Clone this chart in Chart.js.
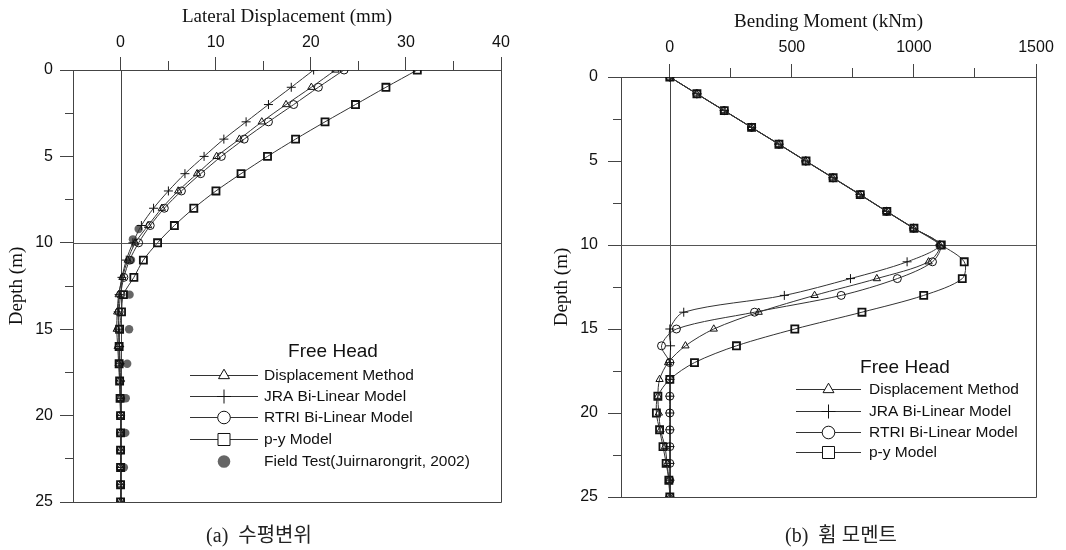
<!DOCTYPE html>
<html><head><meta charset="utf-8">
<script src="https://cdn.jsdelivr.net/npm/chart.js@4"></script>
<style>
html,body{margin:0;padding:0;background:#fff;}
#wrap{position:relative;width:1066px;height:550px;overflow:hidden;background:#fff;}
.box{position:absolute;top:0;width:533px;height:550px;}
.cap{position:absolute;top:523px;font-family:"Liberation Serif","Noto Sans CJK KR",serif;font-size:20px;line-height:24px;color:#222;white-space:nowrap;transform:translateX(-50%);}
</style></head><body>
<div id="wrap">
<div class="box" style="left:0"><canvas id="c1"></canvas></div>
<div class="box" style="left:533px"><canvas id="c2"></canvas></div>
<div class="cap" style="left:259px">(a)&nbsp; 수평변위</div>
<div class="cap" style="left:841px">(b)&nbsp; 휨 모멘트</div>
</div>
<script>
// ---------- data ----------
const depths = [0,1,2,3,4,5,6,7,8,9,10,11,12,13,14,15,16,17,18,19,20,21,22,23,24,25];
const seriesNames = ['Displacement Method','JRA Bi-Linear Model','RTRI Bi-Linear Model','p-y Model'];
const fieldName = 'Field Test(Juirnarongrit, 2002)';

// (a) lateral displacement (mm)
const dispMethodDisp = [22.6,20.06,17.4,14.85,12.5,10.1,8.05,6.06,4.34,2.9,1.55,0.75,0.2,-0.2,-0.35,-0.4,-0.3,-0.2,-0.1,-0.05,0,0,0,0,0,0];
const jraDisp        = [20.3,17.95,15.55,13.2,10.86,8.78,6.77,5.03,3.47,2.19,1.3,0.6,0.15,-0.15,-0.25,-0.2,-0.1,-0.05,0,0,0,0,0,0,0,0];
const rtriDisp       = [23.5,20.8,18.2,15.55,13.0,10.6,8.43,6.4,4.6,3.12,1.9,0.95,0.35,0.0,-0.15,-0.2,-0.15,-0.1,-0.05,0,0,0,0,0,0,0];
const pyDisp         = [31.2,27.9,24.7,21.5,18.4,15.45,12.67,10.03,7.7,5.66,3.89,2.4,1.4,0.3,0.1,-0.1,-0.15,-0.15,-0.1,-0.05,0,0,0,0,0,0];
const fieldDepths    = [9.2,9.8,11,13,15,17,19,21,23];
const fieldDisp      = [1.9,1.3,1.1,0.95,0.9,0.7,0.55,0.5,0.35];

// (b) bending moment (kNm)
const dispMethodMom = [0,110,222,334,446,556,667,778,887,997,1105,1060,848,593,364,180,64,-7,-42,-49,-45,-38,-20,-11,-4,0];
const jraMom        = [0,111,223,335,447,557,668,779,888,998,1105,972,740,469,57,0,3,0,0,0,0,0,0,0,0,0];
const rtriMom       = [0,111,223,335,447,557,669,780,888,999,1108,1076,932,702,347,27,-34,0,0,0,0,0,0,0,0,0];
const pyMom         = [0,111,223,335,447,558,669,780,889,1000,1112,1206,1198,1040,787,512,273,101,0,-49,-55,-42,-28,-15,-4,0];

// axes / ticks
const dispRange = [-5, 40];
const dispTickValues = [0,5,10,15,20,25,30,35,40];
const dispTickLabels = [0,10,20,30,40];
const momRange = [-200, 1500];
const momTickValues = [0,250,500,750,1000,1250,1500];
const momTickLabels = [0,500,1000,1500];
const depthRange = [0, 25];
const depthTickValues = [0,2.5,5,7.5,10,12.5,15,17.5,20,22.5,25];
const depthTickLabels = [0,5,10,15,20,25];
const refDepth = 10;

// ---------- styling ----------
const LINE = '#333', MARK = '#111';
const markerStyles = [
  {pointStyle:'triangle', pointRadius:4.2, pointBorderWidth:1},
  {pointStyle:'cross', pointRadius:4.5, pointBorderWidth:1},
  {pointStyle:'circle', pointRadius:4, pointBorderWidth:1},
  {pointStyle:'rect', pointRadius:5, pointBorderWidth:1.8}
];

function makeSeries(arrs){
  return arrs.map((arr,k)=>Object.assign({
    label: seriesNames[k],
    data: depths.map((d,i)=>({x:arr[i], y:d})),
    borderColor: LINE, borderWidth: 1, tension: 0.3,
    pointBorderColor: MARK, pointBackgroundColor: 'rgba(0,0,0,0)'
  }, markerStyles[k]));
}

function drawMarker(ctx, style, x, y, r){
  ctx.beginPath();
  if (style==='triangle'){
    const w = r*Math.sqrt(3);
    ctx.moveTo(x, y - r); ctx.lineTo(x + w/2, y + r/2); ctx.lineTo(x - w/2, y + r/2); ctx.closePath();
  } else if (style==='cross'){
    ctx.moveTo(x, y - r); ctx.lineTo(x, y + r); ctx.moveTo(x - r, y); ctx.lineTo(x + r, y);
  } else if (style==='circle'){
    ctx.arc(x, y, r, 0, Math.PI*2);
  } else if (style==='rect'){
    const s = r*Math.SQRT1_2; ctx.rect(x - s, y - s, 2*s, 2*s);
  }
}

const framePlugin = {
  id:'frame',
  beforeDatasetsDraw(chart){
    const {ctx, chartArea:a, scales:{x,y}} = chart;
    ctx.save();
    ctx.lineWidth = 1;
    ctx.strokeStyle = '#444';
    const x0 = Math.round(x.getPixelForValue(0)) + 0.5;
    ctx.beginPath(); ctx.moveTo(x0, a.top); ctx.lineTo(x0, a.bottom); ctx.stroke();
    ctx.strokeStyle = '#555';
    const yr = Math.round(y.getPixelForValue(refDepth)) + 0.5;
    ctx.beginPath(); ctx.moveTo(a.left, yr); ctx.lineTo(a.right, yr); ctx.stroke();
    ctx.strokeStyle = '#444';
    ctx.beginPath();
    ctx.moveTo(Math.round(a.right)+0.5, a.top); ctx.lineTo(Math.round(a.right)+0.5, Math.round(a.bottom)+0.5);
    ctx.lineTo(a.left, Math.round(a.bottom)+0.5);
    ctx.stroke();
    ctx.restore();
  },
  afterDraw(chart, args, o){
    if (!o || !o.rows) return;
    const ctx = chart.ctx;
    ctx.save();
    ctx.fillStyle = '#111';
    ctx.textBaseline = 'middle';
    ctx.textAlign = 'center';
    ctx.font = '19px "Liberation Sans", Arial, sans-serif';
    ctx.fillText('Free Head', o.titleX, o.titleY);
    ctx.textAlign = 'left';
    ctx.font = '15.5px "Liberation Sans", Arial, sans-serif';
    chart.data.datasets.forEach((ds, i) => {
      const yy = o.rows[i];
      ctx.lineWidth = 1;
      ctx.strokeStyle = LINE;
      if (ds.showLine !== false){
        ctx.beginPath(); ctx.moveTo(o.x1, yy + 0.5); ctx.lineTo(o.x2, yy + 0.5); ctx.stroke();
        ctx.fillStyle = '#fff';
      } else {
        ctx.fillStyle = ds.pointBackgroundColor;
      }
      const r = ds.pointStyle === 'rect' ? 8.5 : (ds.pointStyle === 'cross' ? 7 : 6.3);
      drawMarker(ctx, ds.pointStyle, (o.x1 + o.x2)/2, yy + 0.5, r);
      ctx.strokeStyle = MARK;
      if (ds.showLine !== false){
        if (ds.pointStyle !== 'cross') ctx.fill();
        ctx.stroke();
      } else {
        ctx.fill();
      }
      ctx.fillStyle = '#111';
      ctx.fillText(ds.label, o.tx, yy + 1);
    });
    ctx.restore();
  }
};

function makeScales(range, tickVals, tickLabels, xTitle, geom){
  const tickFont = {family:'"Liberation Sans", Arial, sans-serif', size:16};
  const titleFont = {family:'"Liberation Serif", "Times New Roman", serif', size:19};
  const isLab = (arr, v) => arr.some(t => Math.abs(t - v) < 1e-9);
  return {
    x: {
      type:'linear', position:'top', min:range[0], max:range[1],
      afterBuildTicks:(s)=>{ s.ticks = tickVals.map(v=>({value:v})); },
      ticks:{autoSkip:false, maxRotation:0, color:'#111', font:tickFont, padding:geom.xPad,
        callback:(v)=> isLab(tickLabels, v) ? String(v) : ''},
      grid:{drawOnChartArea:false, drawTicks:true, tickLength:13, color:'#444', tickColor:'#444',
        tickBorderDash:(c)=> (c.tick && !isLab(tickLabels, c.tick.value)) ? [0,4,9,60] : []},
      border:{display:true, color:'#444', width:1},
      title:{display:true, text:xTitle, color:'#111', font:titleFont, padding:{top:geom.xTitlePad, bottom:0}},
      afterFit:(s)=>{ s.height = geom.top; }
    },
    y: {
      type:'linear', position:'left', reverse:true, min:depthRange[0], max:depthRange[1],
      afterBuildTicks:(s)=>{ s.ticks = depthTickValues.map(v=>({value:v})); },
      ticks:{autoSkip:false, color:'#111', font:tickFont, padding:geom.yPad,
        callback:(v)=> isLab(depthTickLabels, v) ? String(v) : ''},
      grid:{drawOnChartArea:false, drawTicks:true, tickLength:13, color:'#444', tickColor:'#444',
        tickBorderDash:(c)=> (c.tick && !isLab(depthTickLabels, c.tick.value)) ? [0,5,8,60] : []},
      border:{display:true, color:'#444', width:1},
      title:{display:true, text:'Depth (m)', color:'#111', font:titleFont, padding:{top:geom.yTitlePad, bottom:0}},
      afterFit:(s)=>{ s.width = geom.left; }
    }
  };
}

function baseOptions(scales, pad, legendOpts){
  return {
    responsive:true, maintainAspectRatio:false, animation:false, devicePixelRatio:1,
    indexAxis:'y',
    layout:{padding:pad},
    plugins:{legend:{display:false}, tooltip:{enabled:false}, frame:legendOpts},
    elements:{line:{capBezierPoints:true}},
    scales
  };
}

// ---------- chart (a) ----------
const dsA = makeSeries([dispMethodDisp, jraDisp, rtriDisp, pyDisp]);
dsA.push({
  label: fieldName,
  data: fieldDepths.map((d,i)=>({x:fieldDisp[i], y:d})),
  showLine:false, pointStyle:'circle', pointRadius:4.2, pointBorderWidth:0,
  pointBackgroundColor:'#666', pointBorderColor:'#666', borderColor:'#666'
});
new Chart(document.getElementById('c1'), {
  type:'line',
  data:{datasets:dsA},
  options: baseOptions(
    makeScales(dispRange, dispTickValues, dispTickLabels, 'Lateral Displacement (mm)', {top:70, left:73, xPad:5, yPad:7, xTitlePad:6, yTitlePad:6}),
    {left:0, top:0, right:32, bottom:48},
    {titleX:333, titleY:352, x1:190, x2:258, tx:264, rows:[375,396,417,439,461]}
  ),
  plugins:[framePlugin]
});

// ---------- chart (b) ----------
const dsB = makeSeries([dispMethodMom, jraMom, rtriMom, pyMom]);
new Chart(document.getElementById('c2'), {
  type:'line',
  data:{datasets:dsB},
  options: baseOptions(
    makeScales(momRange, momTickValues, momTickLabels, 'Bending Moment (kNm)', {top:77, left:88, xPad:7, yPad:10, xTitlePad:11, yTitlePad:18}),
    {left:0, top:0, right:30, bottom:53},
    {titleX:905-533, titleY:368, x1:796-533, x2:861-533, tx:869-533, rows:[389,411,432,452]}
  ),
  plugins:[framePlugin]
});
</script>
</body></html>
